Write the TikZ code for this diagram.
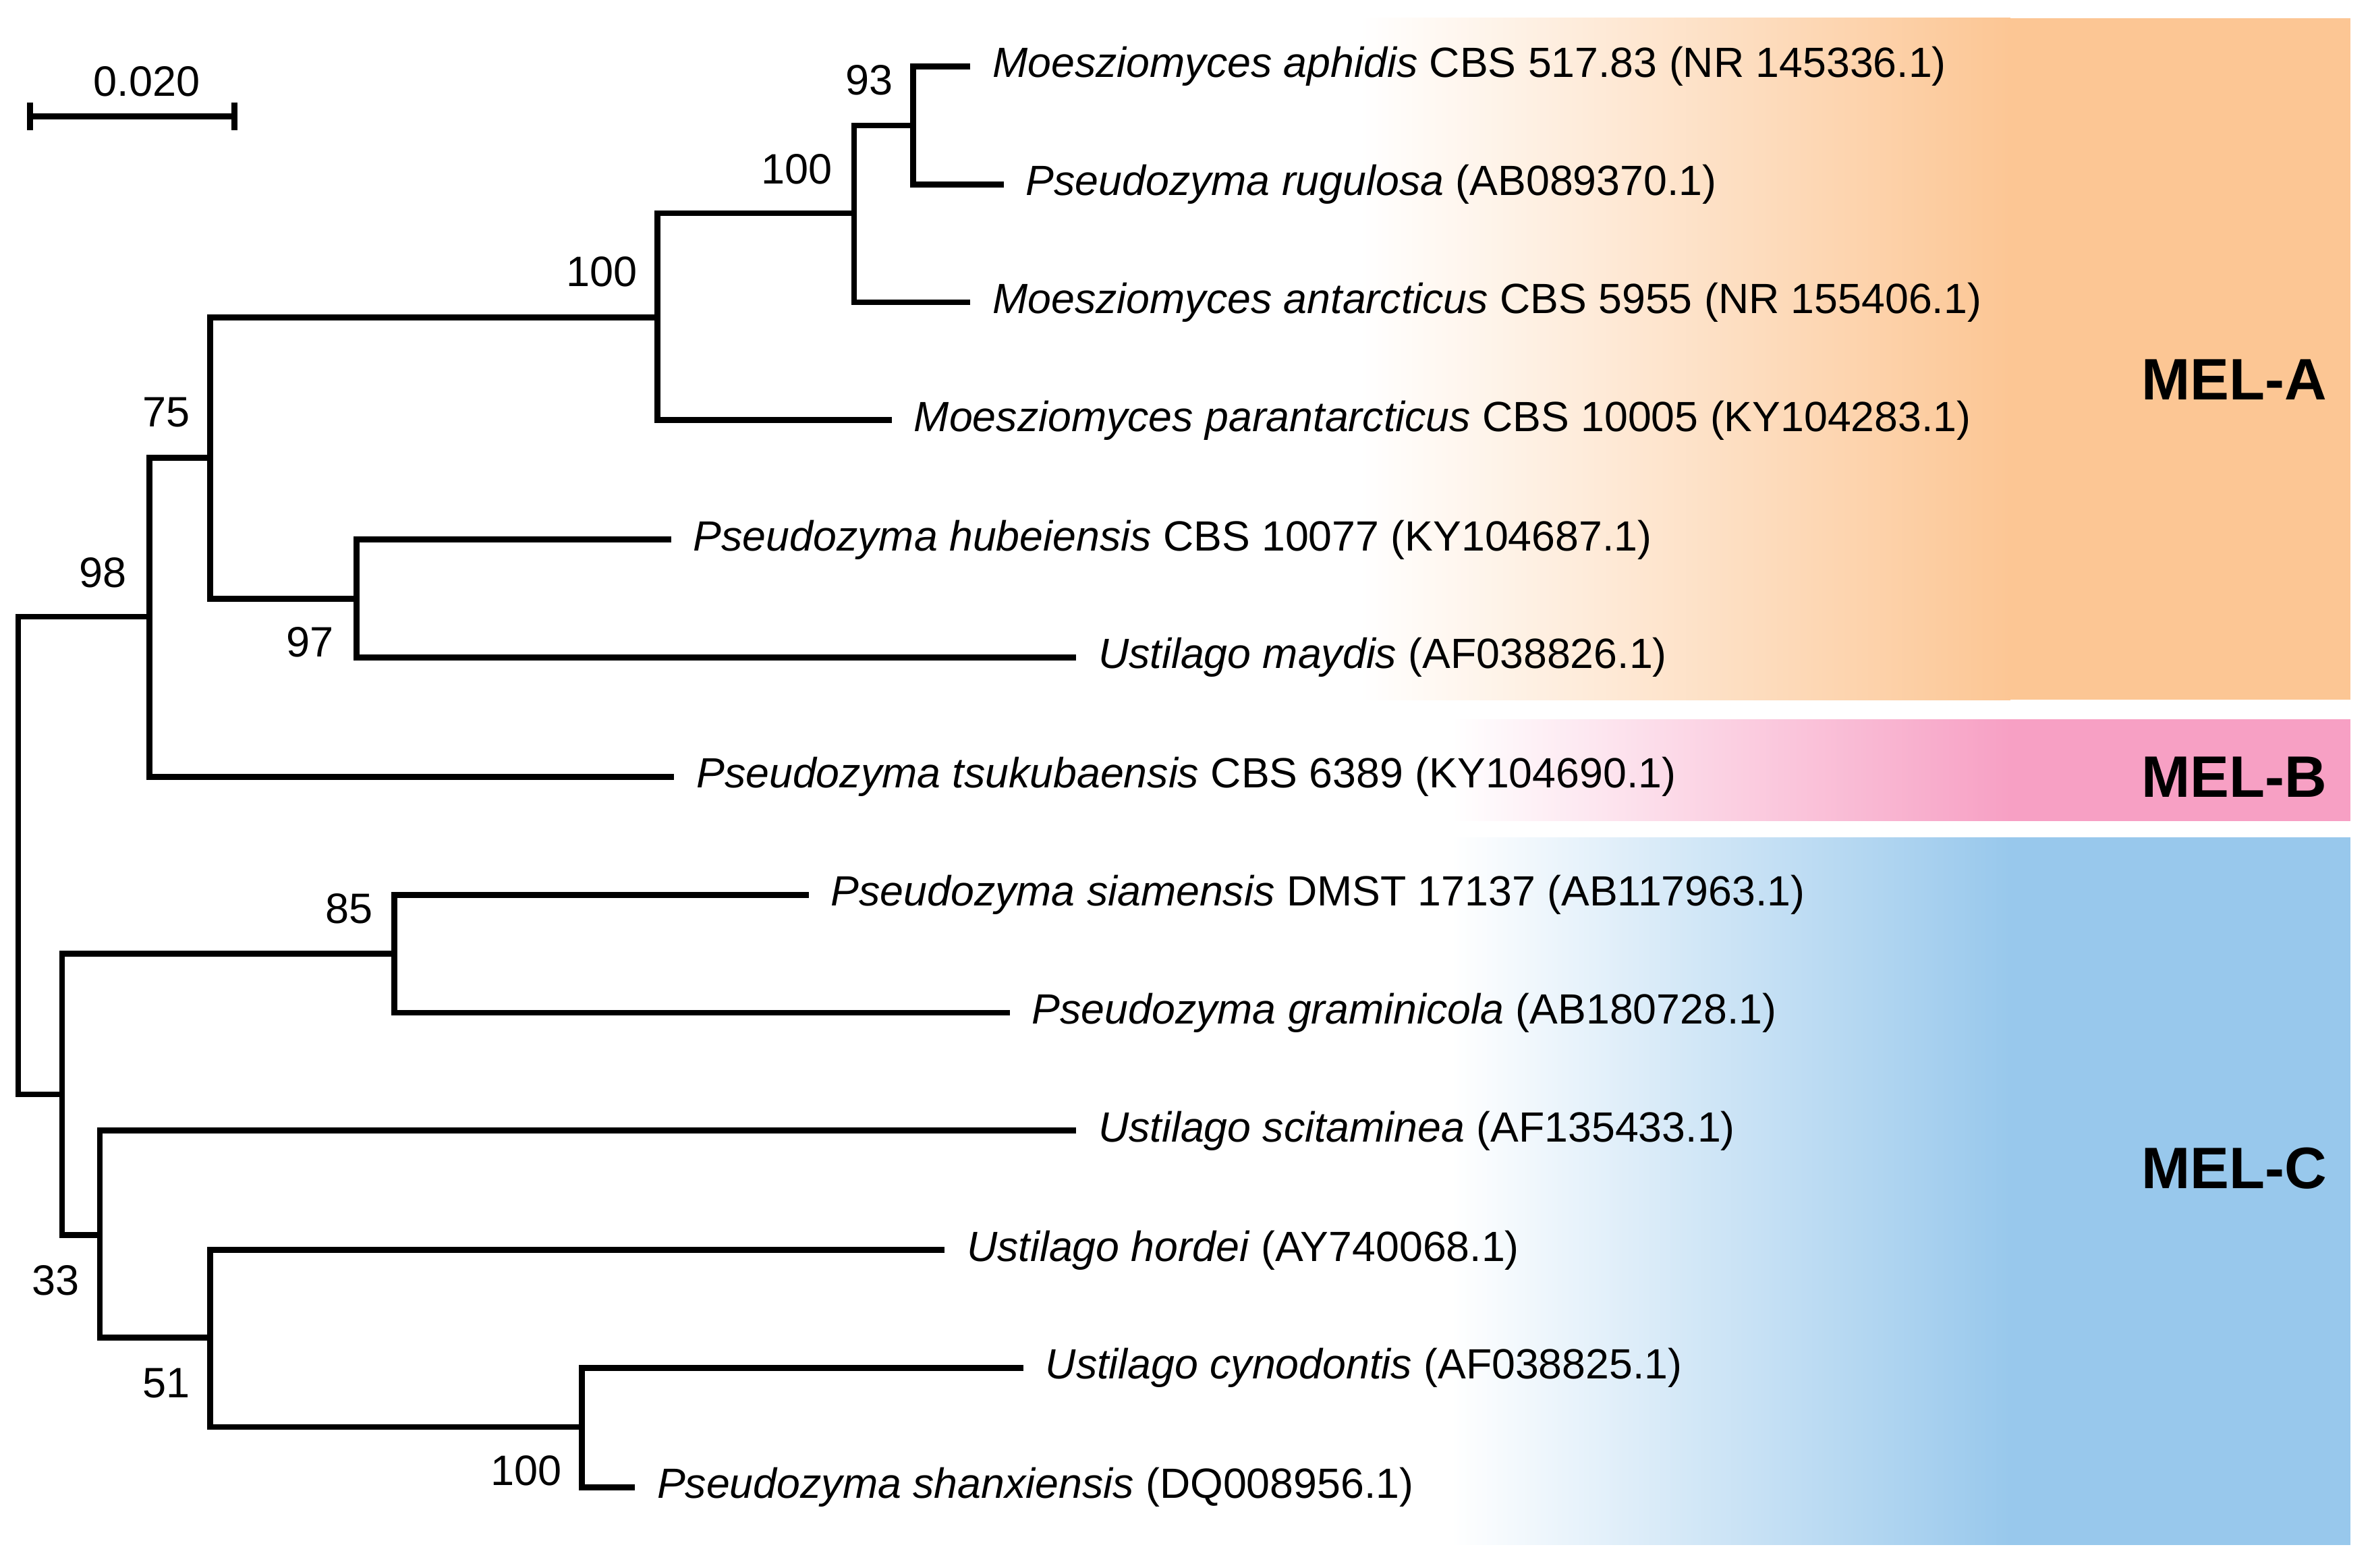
\documentclass[tikz,border=0pt]{standalone}
\usepackage{fontspec}
\setmainfont{Liberation Sans}
\begin{document}
\begin{tikzpicture}[x=0.01cm,y=-0.01cm,
  br/.style={line width=1.1pt},
  leaf/.style={anchor=west,inner xsep=4pt,inner ysep=0pt,font=\fontsize{7.95}{9}\selectfont},
  boot/.style={font=\fontsize{8}{9}\selectfont,inner sep=0pt},
  mel/.style={anchor=east,font=\fontsize{11}{13}\bfseries\selectfont,inner sep=0pt}]
\definecolor{orA}{RGB}{252,198,148}
\definecolor{pkB}{RGB}{247,160,196}
\definecolor{blC}{RGB}{152,200,236}
\useasboundingbox (0,0) rectangle (1568,1037);
% bands
\shade[left color=white,right color=orA] (900,12) rectangle (1330,463);
\fill[orA] (1329,12) rectangle (1555,463);
\shade[left color=white,right color=pkB] (960,476) rectangle (1330,543);
\fill[pkB] (1329,476) rectangle (1555,543);
\shade[left color=white,right color=blC] (960,554) rectangle (1330,1022);
\fill[blC] (1329,554) rectangle (1555,1022);
\node[mel] (mA) at (1540,251) {MEL-A};
\node[mel] (mB) at (1540,514) {MEL-B};
\node[mel] (mC) at (1540,773) {MEL-C};
% scale bar
\coordinate (s1) at (20,77); \coordinate (s2) at (155,77);
\draw[br] (s1) -- (s2);
\draw[br] ([yshift=-0.09cm]s1) -- ([yshift=0.09cm]s1);
\draw[br] ([yshift=-0.09cm]s2) -- ([yshift=0.09cm]s2);
\node[boot] (sl) at (97,54) {0.020};
% leaves
\node[leaf] (l1) at (642,44) {\textit{Moesziomyces aphidis} CBS 517.83 (NR 145336.1)};
\node[leaf] (l2) at (664,122) {\textit{Pseudozyma rugulosa} (AB089370.1)};
\node[leaf] (l3) at (642,200) {\textit{Moesziomyces antarcticus} CBS 5955 (NR 155406.1)};
\node[leaf] (l4) at (590,278) {\textit{Moesziomyces parantarcticus} CBS 10005 (KY104283.1)};
\node[leaf] (l5) at (444,357) {\textit{Pseudozyma hubeiensis} CBS 10077 (KY104687.1)};
\node[leaf] (l6) at (712,435) {\textit{Ustilago maydis} (AF038826.1)};
\node[leaf] (l7) at (446,514) {\textit{Pseudozyma tsukubaensis} CBS 6389 (KY104690.1)};
\node[leaf] (l8) at (535,592) {\textit{Pseudozyma siamensis} DMST 17137 (AB117963.1)};
\node[leaf] (l9) at (668,670) {\textit{Pseudozyma graminicola} (AB180728.1)};
\node[leaf] (l10) at (712,748) {\textit{Ustilago scitaminea} (AF135433.1)};
\node[leaf] (l11) at (625,827) {\textit{Ustilago hordei} (AY740068.1)};
\node[leaf] (l12) at (677,905) {\textit{Ustilago cynodontis} (AF038825.1)};
\node[leaf] (l13) at (420,984) {\textit{Pseudozyma shanxiensis} (DQ008956.1)};
% internal nodes
\coordinate (a) at (604,83);
\coordinate (b) at (565,141);
\coordinate (c) at (435,210);
\coordinate (d) at (236,396);
\coordinate (e) at (139,303);
\coordinate (f) at (99,408);
\coordinate (g) at (261,631);
\coordinate (h) at (385,944);
\coordinate (i) at (139,885);
\coordinate (j) at (66,817);
\coordinate (k) at (41,724);
\coordinate (r) at (12,566);
\draw[br] (l1.west) -| (a) |- (l2.west);
\draw[br] (a) -| (b) |- (l3.west);
\draw[br] (b) -| (c) |- (l4.west);
\draw[br] (l5.west) -| (d) |- (l6.west);
\draw[br] (c) -| (e) |- (d);
\draw[br] (e) -| (f) |- (l7.west);
\draw[br] (l8.west) -| (g) |- (l9.west);
\draw[br] (l12.west) -| (h) |- (l13.west);
\draw[br] (l11.west) -| (i) |- (h);
\draw[br] (l10.west) -| (j) |- (i);
\draw[br] (g) -| (k) |- (j);
\draw[br] (f) -| (r) |- (k);
% bootstrap
\node[boot] (b1) at (575,53) {93};
\node[boot] (b2) at (527,112) {100};
\node[boot] (b3) at (398,180) {100};
\node[boot] (b4) at (205,425) {97};
\node[boot] (b5) at (110,273) {75};
\node[boot] (b6) at (68,379) {98};
\node[boot] (b7) at (231,601) {85};
\node[boot] (b8) at (348,973) {100};
\node[boot] (b9) at (110,915) {51};
\node[boot] (b10) at (37,847) {33};
\end{tikzpicture}
\end{document}
